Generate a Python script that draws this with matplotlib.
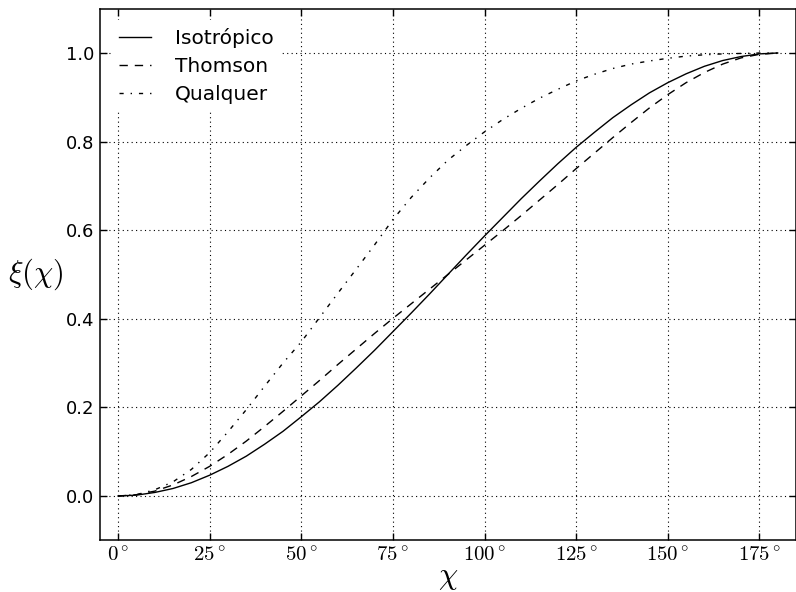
import matplotlib
matplotlib.use("Agg")
import matplotlib.pyplot as plt
from matplotlib.ticker import FuncFormatter

# angles in degrees
chi = [0, 5, 10, 15, 20, 25, 30, 35, 40, 45, 50, 55, 60, 65, 70, 75, 80, 85, 90,
       95, 100, 105, 110, 115, 120, 125, 130, 135, 140, 145, 150, 155, 160, 165,
       170, 175, 180]

isotropico = [0.0, 0.002, 0.008, 0.017, 0.030, 0.047, 0.067, 0.090, 0.117, 0.146,
              0.179, 0.213, 0.250, 0.289, 0.329, 0.371, 0.413, 0.456, 0.500,
              0.544, 0.587, 0.629, 0.671, 0.711, 0.750, 0.787, 0.821, 0.854,
              0.883, 0.910, 0.933, 0.953, 0.970, 0.983, 0.992, 0.998, 1.0]

thomson = [0.0, 0.003, 0.011, 0.025, 0.044, 0.067, 0.094, 0.124, 0.157, 0.191,
           0.226, 0.261, 0.297, 0.332, 0.367, 0.401, 0.434, 0.467, 0.500,
           0.533, 0.566, 0.599, 0.633, 0.668, 0.703, 0.739, 0.774, 0.809,
           0.843, 0.876, 0.906, 0.933, 0.956, 0.975, 0.989, 0.997, 1.0]

qualquer = [0.0, 0.003, 0.014, 0.032, 0.060, 0.098, 0.145, 0.195, 0.248, 0.300,
            0.348, 0.403, 0.458, 0.512, 0.567, 0.624, 0.674, 0.718, 0.758,
            0.791, 0.822, 0.850, 0.875, 0.898, 0.918, 0.937, 0.952, 0.965,
            0.975, 0.982, 0.988, 0.993, 0.996, 0.998, 0.999, 1.0, 1.0]

x_ticks = [0, 25, 50, 75, 100, 125, 150, 175]
y_ticks = [0.0, 0.2, 0.4, 0.6, 0.8, 1.0]

plt.rcParams["mathtext.fontset"] = "cm"
plt.rcParams["font.family"] = "DejaVu Sans"

fig = plt.figure(figsize=(7.96, 5.92), dpi=100)
ax = fig.add_axes([0.1253, 0.0873, 0.8747, 0.898])

ax.plot(chi, isotropico, color="k", lw=1.0, label="Isotrópico")
ax.plot(chi, thomson, color="k", lw=1.0, linestyle=(0, (6, 5)), label="Thomson")
ax.plot(chi, qualquer, color="k", lw=1.0, linestyle=(0, (3, 5, 1, 5)), label="Qualquer")

ax.set_xlim(-5, 185)
ax.set_ylim(-0.1, 1.1)
ax.set_xticks(x_ticks)
ax.set_yticks(y_ticks)
ax.xaxis.set_major_formatter(FuncFormatter(lambda v, p: r"$%d^\circ$" % v))
ax.yaxis.set_major_formatter(FuncFormatter(lambda v, p: "%.1f" % v))
ax.tick_params(direction="in", length=5, width=1, top=True, right=True)
ax.tick_params(axis="x", labelsize=15, pad=4)
ax.tick_params(axis="y", labelsize=13, pad=4)
for s in ax.spines.values():
    s.set_linewidth(1.1)

ax.grid(True, linestyle=(0, (1, 3)), color="k", lw=0.8)

ax.set_xlabel(r"$\chi$", fontsize=22, labelpad=-2)
ax.set_ylabel(r"$\xi(\chi)$", fontsize=22, rotation=0, labelpad=22, va="center")

leg = ax.legend(loc="upper left", fontsize=14.5, frameon=True, fancybox=False,
                framealpha=1, handlelength=1.6, handletextpad=1.2,
                labelspacing=0.45, borderaxespad=0.55)
leg.get_frame().set_edgecolor("none")
leg.get_frame().set_facecolor("white")

fig.savefig("out.png", dpi=100)
